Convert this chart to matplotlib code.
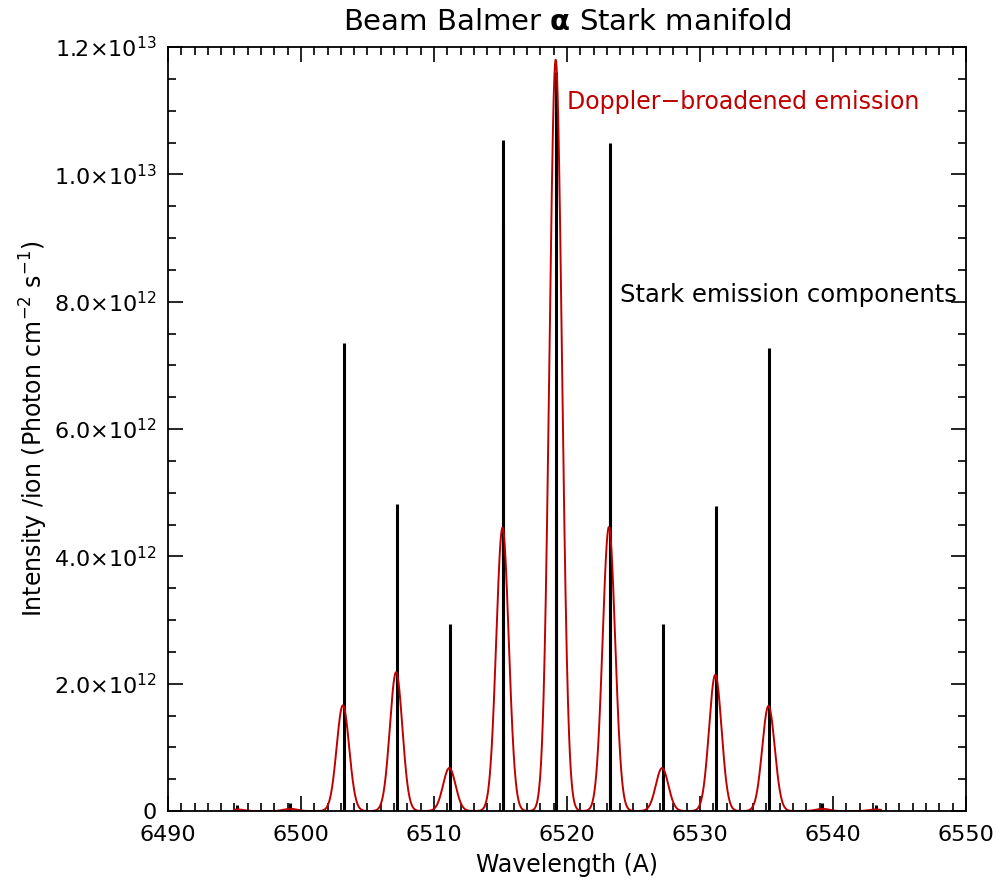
import numpy as np
import matplotlib
matplotlib.use('Agg')
import matplotlib.pyplot as plt
from matplotlib.ticker import MultipleLocator, FuncFormatter

# Stark components (stick spectrum)
stark_wl = [6495.2, 6499.2, 6503.2, 6507.2, 6511.2, 6515.2, 6515.2, 6519.2,
            6519.2, 6523.2, 6523.2, 6527.2, 6531.2, 6535.2, 6539.2, 6543.2]
stark_int = [1.0e11, 1.2e11, 7.35e12, 4.82e12, 2.94e12, 1.054e13, 9.2e12, 1.161e13,
             4.7e12, 1.049e13, 9.0e12, 2.94e12, 4.79e12, 7.27e12, 1.2e11, 1.0e11]

# Doppler-broadened peaks (centre, peak height) and gaussian width in A
doppler_wl = [6495.2, 6499.2, 6503.15, 6507.15, 6511.15, 6515.15, 6519.15,
              6523.15, 6527.15, 6531.15, 6535.15, 6539.2, 6543.2]
doppler_peak = [2.5e10, 3.5e10, 1.66e12, 2.18e12, 6.75e11, 4.45e12, 1.18e13,
                4.46e12, 6.75e11, 2.14e12, 1.65e12, 3.5e10, 2.5e10]
doppler_sigma = 0.47
doppler_range = (6495.0, 6543.6)

red = '#c00000'
plt.rcParams['font.family'] = ['DejaVu Sans']

fig = plt.figure(figsize=(10.04, 8.88), dpi=100)
ax = fig.add_axes([168 / 1004, 77 / 888, 798 / 1004, 764 / 888])

ax.vlines(stark_wl, 0, stark_int, color='black', lw=2.2)

wl = np.linspace(doppler_range[0], doppler_range[1], 3000)
prof = np.zeros_like(wl)
for c, a in zip(doppler_wl, doppler_peak):
    prof += a * np.exp(-0.5 * ((wl - c) / doppler_sigma) ** 2)
ax.plot(wl, prof, color=red, lw=1.4)

ax.set_xlim(6490, 6550)
ax.set_ylim(0, 1.2e13)

ax.xaxis.set_major_locator(MultipleLocator(10))
ax.xaxis.set_minor_locator(MultipleLocator(1))
ax.yaxis.set_major_locator(MultipleLocator(2e12))
ax.yaxis.set_minor_locator(MultipleLocator(5e11))


def sci_fmt(v, pos):
    if v <= 0:
        return '0' if v == 0 else ''
    e = int(np.floor(np.log10(v) + 1e-9))
    m = v / 10 ** e
    return r'%.1f$\times$10$^{%d}$' % (m, e)


ax.yaxis.set_major_formatter(FuncFormatter(sci_fmt))
ax.tick_params(which='both', direction='in', top=True, right=True, width=1.2)
ax.tick_params(which='major', length=11)
ax.tick_params(axis='x', which='major', pad=10, labelsize=16)
ax.tick_params(axis='y', which='major', pad=8, labelsize=16)
ax.tick_params(which='minor', length=5.5)
ax.tick_params(axis='y', which='minor', length=6)
for s in ax.spines.values():
    s.set_linewidth(1.3)

ax.set_xlabel('Wavelength (A)', fontsize=17, labelpad=6)
ax.set_ylabel(r'Intensity /ion (Photon cm$^{-2}$ s$^{-1}$)', fontsize=17, labelpad=3)
ax.set_title(r'Beam Balmer $\mathbf{\alpha}$ Stark manifold', fontsize=21, pad=12)

ax.text(6520.0, 1.113e13, 'Doppler\u2212broadened emission', color=red,
        fontsize=17, va='center', ha='left')
ax.text(6524.0, 8.1e12, 'Stark emission components', color='black',
        fontsize=17.5, va='center', ha='left')

fig.savefig('out.png', dpi=100)
